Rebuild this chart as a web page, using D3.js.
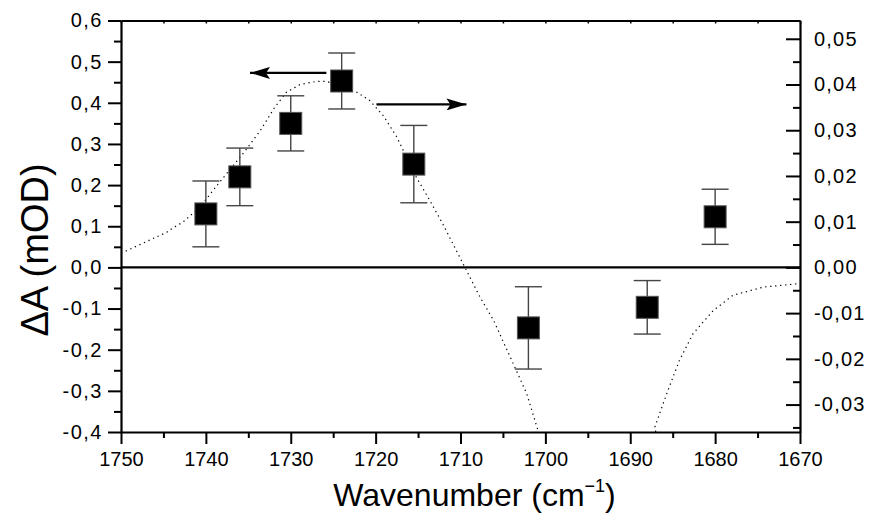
<!DOCTYPE html>
<html>
<head>
<meta charset="utf-8">
<script src="https://cdn.jsdelivr.net/npm/d3@7/dist/d3.min.js"></script>
<style>
  html, body { margin: 0; padding: 0; background: #fff; }
  svg { display: block; font-family: "Liberation Sans", Arial, sans-serif; }
</style>
</head>
<body>
<svg id="chart" width="869" height="522"></svg>
<script>
// ---- data ----
const wavenumbers = [1740, 1736, 1730, 1724, 1715.5, 1702, 1688, 1680];
const deltaA      = [0.130, 0.220, 0.350, 0.453, 0.251, -0.147, -0.097, 0.123];
const deltaAErr   = [0.080, 0.070, 0.067, 0.068, 0.094, 0.100, 0.065, 0.067];

// dotted fit curve (right axis units), two visible branches
const fitBranch1X = [1750, 1749.4, 1744.6, 1744.0, 1742.7, 1740.7, 1738.7, 1735.2, 1733.6, 1731.9, 1730.5, 1728.9, 1726.9, 1725.8, 1722.2, 1720.7, 1719.1, 1717.5, 1715.2, 1713.6, 1712.0, 1707.7, 1706.1, 1703.8, 1702.2, 1701.0, 1700.8];
const fitBranch1Y = [0.0032, 0.0036, 0.0077, 0.0085, 0.0099, 0.0132, 0.0179, 0.0259, 0.0299, 0.0350, 0.0383, 0.0400, 0.0407, 0.0407, 0.0383, 0.0365, 0.0332, 0.0285, 0.0197, 0.0146, 0.0092, -0.0065, -0.0116, -0.0210, -0.0276, -0.0349, -0.0360];
const fitBranch2X = [1687.0, 1687.1, 1685.7, 1684.2, 1682.6, 1680.2, 1677.9, 1674.3, 1670.4, 1670];
const fitBranch2Y = [-0.0360, -0.0349, -0.0276, -0.0203, -0.0145, -0.0094, -0.0061, -0.0043, -0.0036, -0.0036];

const xTicks      = [1750, 1740, 1730, 1720, 1710, 1700, 1690, 1680, 1670];
const yLeftTicks  = [-0.4, -0.3, -0.2, -0.1, 0.0, 0.1, 0.2, 0.3, 0.4, 0.5, 0.6];
const yRightTicks = [-0.03, -0.02, -0.01, 0.00, 0.01, 0.02, 0.03, 0.04, 0.05];

// arrows: [fromX, toX, y(left-axis units)]
const arrowFromX = [1725.8, 1719.9];
const arrowToX   = [1734.8, 1709.3];
const arrowY     = [0.4726, 0.396];

// ---- layout ----
const L = 121, R = 800, T = 20.5, B = 432;
const svg = d3.select("#chart");
const x  = d3.scaleLinear().domain([1750, 1670]).range([L, R]);
const yL = d3.scaleLinear().domain([-0.4, 0.6]).range([B, T]);
const yR = d3.scaleLinear().domain([-0.036, 0.054]).range([B, T]);

const fmt = (d, dec) => d3.format("." + dec + "f")(d).replace(".", ",").replace("−", "-");

// clip
svg.append("clipPath").attr("id", "clip")
  .append("rect").attr("x", L).attr("y", T).attr("width", R - L).attr("height", B - T);

// fit curve
const line = d3.line().x(d => x(d[0])).y(d => yR(d[1]));
[[fitBranch1X, fitBranch1Y], [fitBranch2X, fitBranch2Y]].forEach(([xs, ys]) => {
  svg.append("path")
    .attr("d", line(xs.map((v, i) => [v, ys[i]])))
    .attr("fill", "none").attr("stroke", "#000").attr("stroke-width", 1.2)
    .attr("stroke-dasharray", "1.3,3.7")
    .attr("clip-path", "url(#clip)");
});

// zero line
svg.append("line").attr("x1", L).attr("x2", R).attr("y1", yL(0)).attr("y2", yL(0))
  .attr("stroke", "#000").attr("stroke-width", 2.4);

// axes
const axisStyle = g => {
  g.select(".domain").attr("stroke-width", 2.2);
  g.selectAll(".tick line").attr("stroke-width", 2);
  g.selectAll("text").attr("font-family", "'Liberation Sans', Arial, sans-serif").attr("fill", "#000");
};

// bottom
const gx = svg.append("g").attr("transform", `translate(0,${B})`)
  .call(d3.axisBottom(x).tickValues(xTicks).tickSize(12).tickPadding(8).tickFormat(d => d).tickSizeOuter(0));
axisStyle(gx);
gx.selectAll("text").attr("font-size", 20);
svg.append("g").attr("transform", `translate(0,${B})`)
  .call(d3.axisBottom(x).tickValues(d3.range(1745, 1670, -10)).tickSize(6).tickFormat("").tickSizeOuter(0))
  .call(g => { g.select(".domain").remove(); g.selectAll("line").attr("stroke-width", 2); });

// top (inward small ticks)
const gt = svg.append("g").attr("transform", `translate(0,${T})`)
  .call(d3.axisBottom(x).tickValues(d3.range(1750, 1669, -5)).tickSize(3).tickFormat("").tickSizeOuter(0));
gt.select(".domain").attr("stroke-width", 2.2);
gt.selectAll("line").attr("stroke-width", 1.5);

// left
const gl = svg.append("g").attr("transform", `translate(${L},0)`)
  .call(d3.axisLeft(yL).tickValues(yLeftTicks).tickSize(13).tickPadding(5).tickFormat(d => fmt(d, 1)).tickSizeOuter(0));
axisStyle(gl);
gl.selectAll("text").attr("font-size", 20).attr("letter-spacing", 1.5);
svg.append("g").attr("transform", `translate(${L},0)`)
  .call(d3.axisLeft(yL).tickValues(d3.range(-0.35, 0.6, 0.1)).tickSize(7).tickFormat("").tickSizeOuter(0))
  .call(g => { g.select(".domain").remove(); g.selectAll("line").attr("stroke-width", 2); });

// right (ticks inward)
const gr = svg.append("g").attr("transform", `translate(${R},0)`)
  .call(d3.axisRight(yR).tickValues(yRightTicks).tickSize(-14).tickPadding(0).tickFormat(d => fmt(d, 2)).tickSizeOuter(0));
axisStyle(gr);
gr.selectAll("text").attr("font-size", 20).attr("letter-spacing", 1.2).attr("x", 14);
svg.append("g").attr("transform", `translate(${R},0)`)
  .call(d3.axisRight(yR).tickValues(d3.range(-0.035, 0.054, 0.01)).tickSize(-7).tickFormat("").tickSizeOuter(0))
  .call(g => { g.select(".domain").remove(); g.selectAll("line").attr("stroke-width", 2); });

// error bars
const pts = wavenumbers.map((w, i) => ({ w, v: deltaA[i], e: deltaAErr[i] }));
const eb = svg.append("g").attr("stroke", "#444").attr("stroke-width", 1.4);
pts.forEach(p => {
  const cx = x(p.w);
  eb.append("line").attr("x1", cx).attr("x2", cx).attr("y1", yL(p.v + p.e)).attr("y2", yL(p.v - p.e));
  eb.append("line").attr("x1", cx - 13.5).attr("x2", cx + 13.5).attr("y1", yL(p.v + p.e)).attr("y2", yL(p.v + p.e));
  eb.append("line").attr("x1", cx - 13.5).attr("x2", cx + 13.5).attr("y1", yL(p.v - p.e)).attr("y2", yL(p.v - p.e));
});

// squares
const S = 22;
svg.append("g").selectAll("rect").data(pts).join("rect")
  .attr("x", d => x(d.w) - S / 2).attr("y", d => yL(d.v) - S / 2)
  .attr("width", S).attr("height", S)
  .attr("fill", "#000").attr("stroke", "#555").attr("stroke-width", 1);

// arrows
svg.append("defs").append("marker").attr("id", "ah")
  .attr("viewBox", "0 0 20 12").attr("refX", 20).attr("refY", 6)
  .attr("markerWidth", 20).attr("markerHeight", 12).attr("markerUnits", "userSpaceOnUse")
  .attr("orient", "auto")
  .append("path").attr("d", "M0,0 L20,6 L0,12 L4,6 Z").attr("fill", "#000");
arrowFromX.forEach((fx, i) => {
  svg.append("line")
    .attr("x1", x(fx)).attr("x2", x(arrowToX[i]))
    .attr("y1", yL(arrowY[i])).attr("y2", yL(arrowY[i]))
    .attr("stroke", "#000").attr("stroke-width", 2.2)
    .attr("marker-end", "url(#ah)");
});

// axis titles
svg.append("text")
  .attr("transform", `translate(48,250) rotate(-90)`)
  .attr("text-anchor", "middle").attr("font-size", 38).attr("fill", "#000")
  .text("ΔA (mOD)");

const xt = svg.append("text")
  .attr("x", (L + R) / 2 + 14).attr("y", 506)
  .attr("text-anchor", "middle").attr("font-size", 32).attr("fill", "#000");
xt.append("tspan").text("Wavenumber (cm");
xt.append("tspan").attr("dy", -14).attr("font-size", 18).text("−1");
xt.append("tspan").attr("dy", 14).text(")");
</script>
</body>
</html>
